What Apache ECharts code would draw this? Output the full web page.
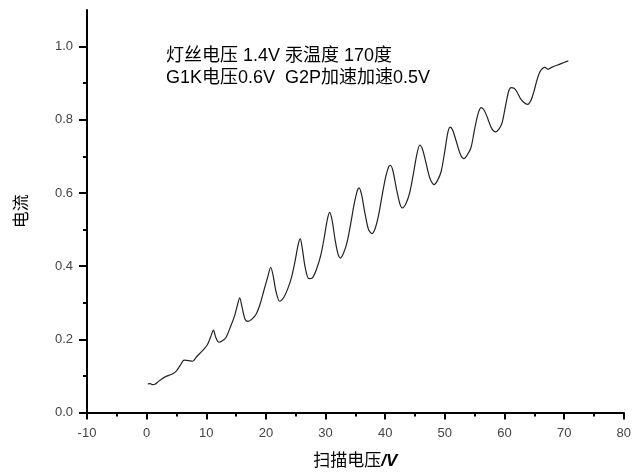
<!DOCTYPE html>
<html>
<head>
<meta charset="utf-8">
<script src="https://cdn.jsdelivr.net/npm/echarts@6/dist/echarts.min.js"></script>
<style>html,body{margin:0;padding:0;background:#fff}#c{width:634px;height:475px}</style>
</head>
<body>
<div id="c"></div>
<script>
// Scan voltage (V)
var voltage = [0.2,0.6,1.0,1.4,2.0,2.6,3.2,3.8,4.4,5.0,5.6,6.3,7.0,7.7,8.3,9.0,9.6,10.2,10.7,11.2,11.6,12.1,12.7,13.3,14.0,14.7,15.2,15.6,16.0,16.5,17.0,17.7,18.4,19.0,19.6,20.3,20.8,21.2,21.7,22.3,23.0,23.7,24.3,24.9,25.4,25.75,26.1,26.6,27.2,27.8,28.5,29.2,29.8,30.3,30.7,31.1,31.6,32.1,32.5,33.0,33.6,34.2,34.8,35.3,35.6,36.0,36.6,37.2,37.8,38.3,38.9,39.5,40.1,40.6,40.9,41.3,41.9,42.5,42.9,43.5,44.1,44.7,45.3,45.8,46.2,46.8,47.5,48.2,48.8,49.4,50.0,50.5,50.9,51.3,51.9,52.6,53.2,53.8,54.4,55.0,55.6,56.1,56.6,57.2,57.8,58.5,59.1,59.6,60.2,60.7,61.1,61.6,62.1,62.6,63.2,63.9,64.4,64.9,65.4,65.9,66.4,66.8,67.3,68.0,68.8,69.6,70.7];
// Current
var current = [0.078,0.079,0.076,0.077,0.085,0.092,0.098,0.102,0.106,0.114,0.128,0.143,0.142,0.140,0.151,0.163,0.173,0.186,0.205,0.225,0.205,0.192,0.196,0.205,0.232,0.262,0.292,0.313,0.288,0.255,0.249,0.256,0.270,0.295,0.330,0.370,0.397,0.375,0.330,0.304,0.315,0.340,0.370,0.415,0.458,0.475,0.448,0.395,0.366,0.368,0.392,0.430,0.480,0.528,0.547,0.525,0.472,0.432,0.422,0.435,0.465,0.515,0.570,0.605,0.614,0.598,0.545,0.500,0.489,0.502,0.540,0.595,0.645,0.672,0.675,0.660,0.610,0.568,0.559,0.572,0.600,0.650,0.705,0.731,0.722,0.685,0.640,0.623,0.635,0.660,0.715,0.765,0.780,0.772,0.742,0.706,0.694,0.705,0.725,0.775,0.818,0.833,0.826,0.803,0.778,0.767,0.775,0.792,0.840,0.878,0.888,0.886,0.876,0.860,0.848,0.842,0.852,0.875,0.906,0.930,0.941,0.943,0.938,0.944,0.949,0.954,0.961];
var yMajorTicks = [0, 0.2, 0.4, 0.6, 0.8, 1.0];
var yMinorTicks = [0.1, 0.3, 0.5, 0.7, 0.9];
var xTitle = '扫描电压';
var yTitle = '电流';
var note1 = '灯丝电压 1.4V 汞温度 170度';
var note2 = 'G1K电压0.6V  G2P加速加速0.5V';

var pts = voltage.map(function (v, i) { return [v, current[i]]; });
var FONT = "'Liberation Sans', 'Noto Sans CJK SC', sans-serif";
function tickAxis(values, len) {
  return {
    type: 'value', min: 0, max: 1.1, position: 'left', offset: 0,
    axisLine: {show: false, onZero: false},
    axisTick: {show: true, length: len, customValues: values, lineStyle: {color: '#000', width: 2}},
    axisLabel: {show: false},
    splitLine: {show: false}
  };
}
var chart = echarts.init(document.getElementById('c'), null, {renderer: 'canvas'});
chart.setOption({
  animation: false,
  backgroundColor: '#fff',
  grid: {left: 87, right: 9, top: 10, bottom: 62.5, containLabel: false},
  xAxis: {
    type: 'value', min: -10, max: 80, interval: 10,
    name: '{a|' + xTitle + '}{b|/V}', nameLocation: 'middle', nameGap: 40,
    nameTextStyle: {rich: {
      a: {fontSize: 17, fontFamily: FONT, color: '#000'},
      b: {fontSize: 17, fontFamily: FONT, fontStyle: 'italic', fontWeight: 'bold', color: '#000'}
    }},
    axisLine: {onZero: false, lineStyle: {color: '#000', width: 2}},
    axisTick: {length: 7, lineStyle: {color: '#000', width: 2}},
    minorTick: {show: true, splitNumber: 2, length: 4, lineStyle: {color: '#000', width: 2}},
    splitLine: {show: false},
    axisLabel: {margin: 14, fontSize: 13, fontFamily: FONT, color: '#444'}
  },
  yAxis: [{
    type: 'value', min: 0, max: 1.1, interval: 0.2, position: 'left',
    name: yTitle, nameLocation: 'middle', nameGap: 56,
    nameTextStyle: {fontSize: 17, fontFamily: FONT, color: '#000'},
    axisLine: {show: true, onZero: false, lineStyle: {color: '#000', width: 2}},
    axisTick: {show: false},
    splitLine: {show: false},
    axisLabel: {margin: 14, fontSize: 13, fontFamily: FONT, color: '#444', customValues: yMajorTicks,
      formatter: function (v) { return v.toFixed(1); }}
  }, tickAxis(yMinorTicks, 4), tickAxis(yMajorTicks, 8)],
  graphic: [
    {type: 'text', left: 166, top: 47, style: {text: note1, font: '18px ' + FONT, fill: '#000'}},
    {type: 'text', left: 166, top: 69, style: {text: note2, font: '18px ' + FONT, fill: '#000'}}
  ],
  series: [{
    type: 'line', yAxisIndex: 0, data: pts, showSymbol: false, smooth: 0.3,
    lineStyle: {color: '#222', width: 1.2}
  }]
});
</script>
</body>
</html>
